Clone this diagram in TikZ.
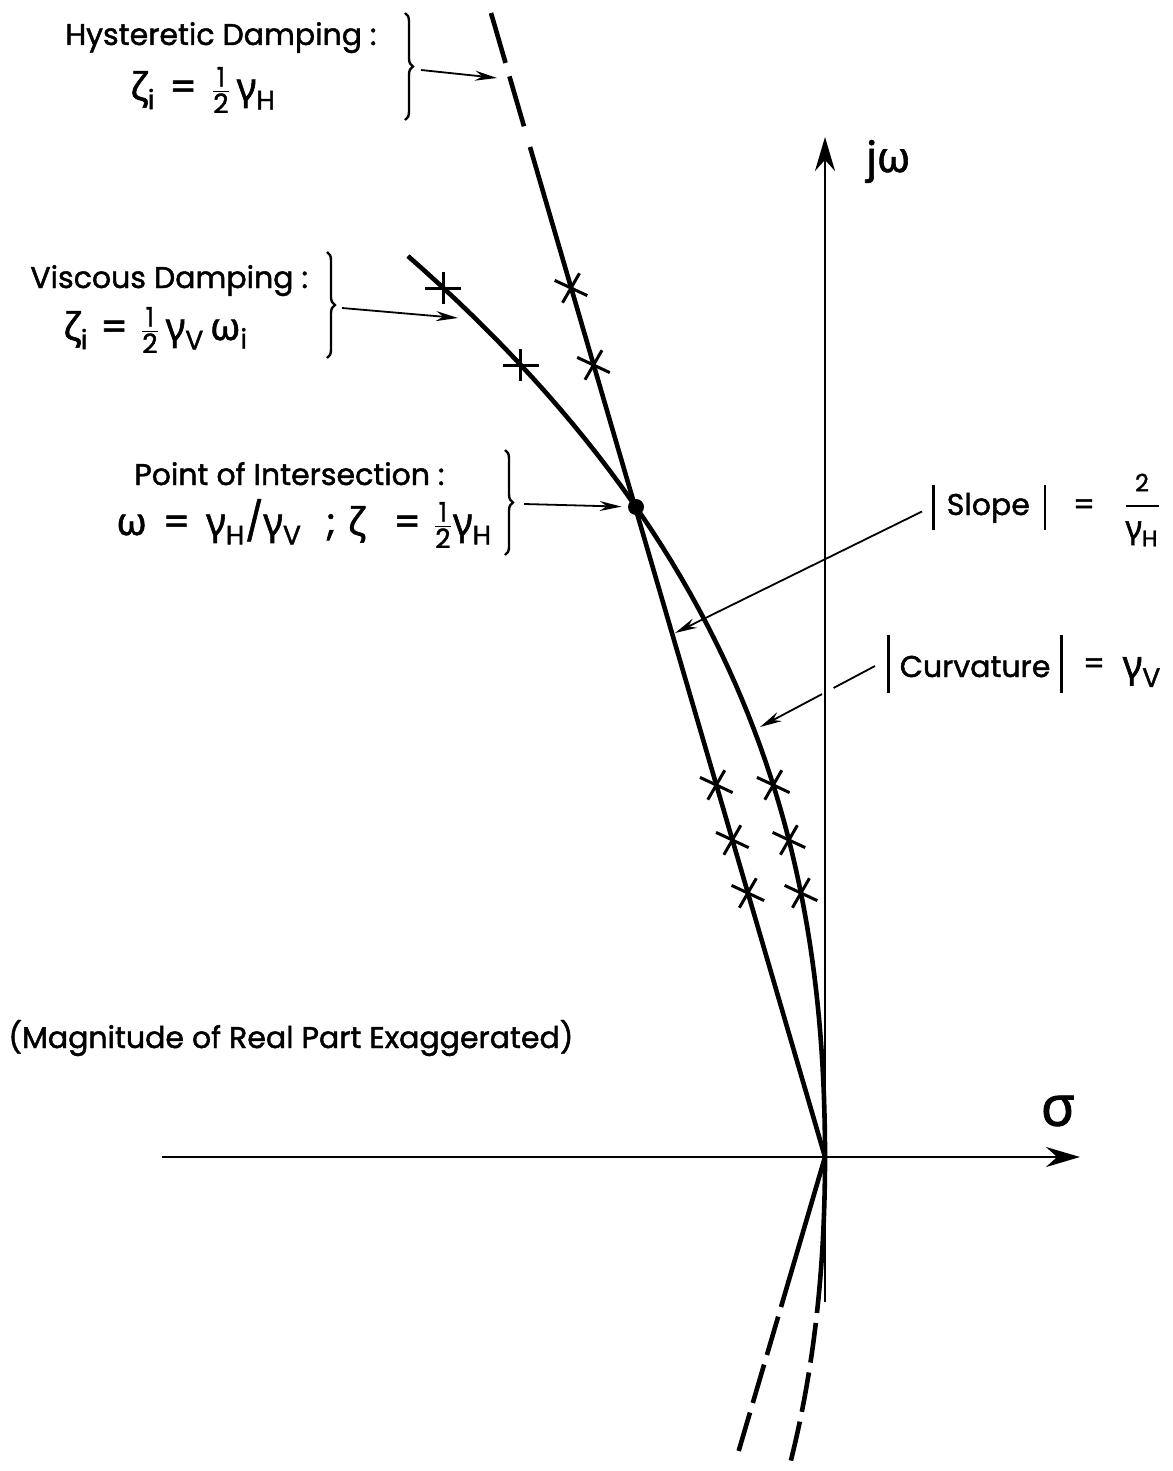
\documentclass[tikz,border=0pt]{standalone}
\usepackage{amsmath}
\usepackage{fontspec}
\setmainfont{Poppins}[FakeBold=1.5]
\newfontfamily\grk{Noto Sans}[FakeBold=1.5]
\usetikzlibrary{calc}
\usetikzlibrary{positioning}
\usetikzlibrary{decorations.pathreplacing}
\usetikzlibrary{arrows.meta}

\newcommand\gk[1]{\text{\grk #1}}
\newcommand\half{\tfrac{\text{1}}{\text{2}}}
\newcommand\lblfont{\fontsize{15}{18}\selectfont}
\newcommand\eqfont{\fontsize{19}{22}\selectfont}

\begin{document}
\begin{tikzpicture}[
      x=0.5pt, y=-0.5pt, >=Stealth,
      axis/.style={line width=1.3pt, -{Stealth[length=17pt,width=10pt]}},
      locus/.style={line width=2.3pt},
      brc/.style={line width=1.2pt, decorate, decoration={brace, amplitude=4pt}},
      lead/.style={line width=0.9pt, -{Stealth[length=11pt,width=5pt]}},
      mk/.style={line width=1.5pt},
      lbl/.style={font=\lblfont, inner sep=0pt},
      eqn/.style={font=\eqfont, inner sep=0pt},
      dot/.style={circle, fill, inner sep=0pt, minimum size=8pt}]
  \useasboundingbox (0,0) rectangle (1172,1471);
  % left-hand labels
  \node[lbl, anchor=base west] (hysl) at (65,45) {Hysteretic Damping :};
  \node[eqn, anchor=base west] (hyse) at (130,100)
    {$\gk{ζ}_{\text{i}}$\hspace{7pt}=\hspace{7pt}$\half\,\gk{γ}_{\text{H}}$};
  \node[lbl, anchor=base west] (visl) at (30,288) {Viscous Damping :};
  \node[eqn, anchor=base west] (vise) at (63,340)
    {$\gk{ζ}_{\text{i}}$\hspace{6pt}=\hspace{6pt}$\half\,\gk{γ}_{\text{V}}\,\gk{ω}_{\text{i}}$};
  \node[lbl, anchor=base west] (intl) at (134,485) {Point of Intersection :};
  \node[eqn, anchor=base west] (inte) at (116,535)
    {$\gk{ω}$\hspace{8pt}=\hspace{8pt}$\gk{γ}_{\text{H}}$/$\gk{γ}_{\text{V}}$\hspace{12pt};\hspace{6pt}$\gk{ζ}$\hspace{14pt}=\hspace{6pt}$\half\gk{γ}_{\text{H}}$};
  \node[lbl, anchor=base west] (magn) at (8,1048) {(Magnitude of Real Part Exaggerated)};
  % axis labels
  \node[eqn, anchor=base west, font=\fontsize{21}{24}\selectfont] (jw) at (866,172) {j{\grk ω}};
  \node[lbl, font=\fontsize{28}{30}\selectfont] (sig) at (1058,1111) {\grk σ};
  % right-hand labels
  \node[lbl, anchor=base west] (slp) at (932,515)
    {\rule[-7.5pt]{1.2pt}{22.5pt}\hspace{6pt}Slope\hspace{7pt}\rule[-7.5pt]{1.2pt}{22.5pt}};
  \node[lbl] (slpeq) at (1084,507) {=};
  \node[eqn, font=\fontsize{16}{18}\selectfont] (slpfr) at (1142,510)
    {$\dfrac{\text{\fontsize{12}{14}\selectfont 2}}{\gk{γ}_{\text{H}}}$};
  \node[lbl, anchor=base west] (crv) at (887,677)
    {\rule[-8pt]{1.2pt}{29pt}\hspace{5pt}Curvature\hspace{5pt}\rule[-8pt]{1.2pt}{29pt}};
  \node[lbl] (crveq) at (1094,666) {=};
  \node[eqn] (crvg) at (1142,672) {$\gk{γ}_{\text{V}}$};
  % axes
  \coordinate (O) at (825,1157);
  \coordinate (ybot) at (825,1302);
  \coordinate (ytop) at (825,137);
  \coordinate (xlft) at (162,1157);
  \coordinate (xrgt) at (1080,1157);
  \draw[axis] (ybot) -- (ytop);
  \draw[axis] (xlft) -- (xrgt);
  % hysteretic damping: a straight line through the origin
  \node[dot] (P) at (636,507) {};
  \coordinate (hA) at (530,147);
  \coordinate (hB) at (491,13);
  \draw[locus] (O) -- (hA);
  \draw[locus, dash pattern=on 26pt off 7pt on 26pt off 20pt] (hB) -- (hA);
  % viscous damping: sigma grows with omega squared
  \draw[locus] plot[domain=0:9.01, samples=60, variable=\t]
    ({825-(2.755*\t*\t+0.2645*\t*\t*\t)}, {1157-100*\t});
  % conjugate branches below the real axis
  \coordinate (hC) at (781,1307);
  \coordinate (hD) at (736,1460);
  \draw[locus] (O) -- (hC);
  \draw[locus, dash pattern=on 20pt off 5pt, dash phase=20pt] (hC) -- (hD);
  \draw[locus] plot[domain=0:1.56, samples=20, variable=\t]
    ({825-(2.9*\t*\t+0.2645*\t*\t*\t)}, {1157+100*\t});
  \draw[locus, dash pattern=on 20pt off 5pt, dash phase=20pt] plot[domain=1.56:3.1, samples=20, variable=\t]
    ({825-(2.9*\t*\t+0.2645*\t*\t*\t)}, {1157+100*\t});
  % modes marked on both loci
  \foreach \yy in {288,365,785,840,893} {
    \pgfmathsetmacro\tq{(1157-\yy)/100}
    \pgfmathsetmacro\xhys{825-29.23*\tq}
    \pgfmathsetmacro\xvis{825-(2.755*\tq*\tq+0.2645*\tq*\tq*\tq)}
    \draw[mk] (\xhys,\yy) +(155:9pt) -- +(-25:9pt) +(240:8.5pt) -- +(60:8.5pt);
    \ifnum\yy<400
      \draw[mk] (\xvis,\yy) +(-18,0) -- +(18,0) +(0,-16) -- +(0,16);
    \else
      \draw[mk] (\xvis,\yy) +(155:9pt) -- +(-25:9pt) +(240:8.5pt) -- +(60:8.5pt);
    \fi
  }
  % braces and leaders
  \draw[brc] (405,13) -- (405,120);
  \draw[brc] (327,252) -- (327,358);
  \draw[brc] (505,450) -- (505,555);
  \coordinate (b1) at (421,70);
  \coordinate (b2) at (342,308);
  \coordinate (b3) at (524,504);
  \coordinate (tH) at (497,78);
  \coordinate (tV) at (458,318);
  \coordinate (sT) at (675,633);
  \coordinate (cT) at (760,727);
  \draw[lead] (b1) -- (tH);
  \draw[lead] (b2) -- (tV);
  \draw[lead, shorten >=3pt] (b3) -- (P);
  \draw[lead] ([xshift=-5pt,yshift=-2pt]slp.west) -- (sT);
  \coordinate (c0) at ([xshift=-6pt,yshift=-1pt]crv.west);
  \draw[line width=0.9pt] (c0) -- ($(c0)!0.36!(cT)$);
  \draw[lead] ($(c0)!0.46!(cT)$) -- (cT);
\end{tikzpicture}
\end{document}
